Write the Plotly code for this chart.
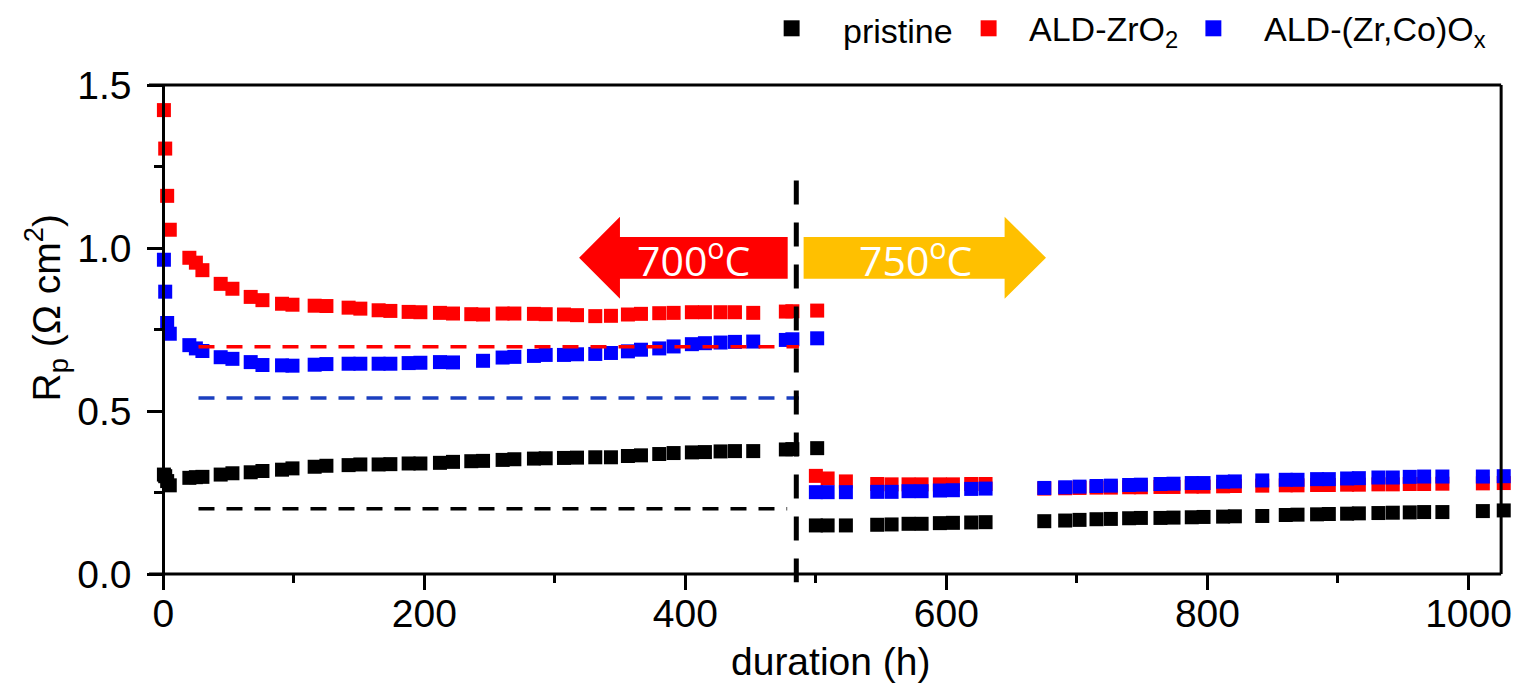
import plotly.graph_objects as go

# ---- measured polarization resistance (ohm cm^2) vs. time (h) ----
hours = [
    # 700 C
    0.5, 1.5, 3, 5, 20, 25, 30, 44, 53, 67, 76, 91, 99, 116, 125, 142, 151,
    165, 174, 188, 197, 212, 222, 236, 245, 260, 269, 284, 293, 307, 317,
    331, 343, 356, 366, 380, 391, 405, 415, 427, 438, 452, 477, 482, 501,
    # 750 C
    500, 509, 523, 547, 558, 571, 581, 595, 605, 619, 630, 675, 691, 702,
    715, 726, 740, 749, 764, 774, 788, 797, 812, 821, 842, 860, 869, 884,
    893, 907, 916, 931, 942, 955, 966, 980, 1011, 1027,
]

rp_pristine = [
    0.305, 0.300, 0.285, 0.272, 0.295, 0.297, 0.298, 0.305, 0.309, 0.312,
    0.316, 0.320, 0.324, 0.329, 0.332, 0.334, 0.336, 0.336, 0.337, 0.339,
    0.339, 0.341, 0.344, 0.346, 0.347, 0.350, 0.352, 0.354, 0.355, 0.356,
    0.357, 0.358, 0.358, 0.362, 0.364, 0.368, 0.371, 0.373, 0.374, 0.376,
    0.377, 0.377, 0.382, 0.383, 0.386,
    0.149, 0.149, 0.149, 0.151, 0.152, 0.154, 0.154, 0.156, 0.157, 0.158,
    0.159, 0.162, 0.164, 0.166, 0.168, 0.169, 0.171, 0.172, 0.172, 0.173,
    0.174, 0.175, 0.176, 0.177, 0.178, 0.181, 0.182, 0.183, 0.184, 0.185,
    0.186, 0.187, 0.188, 0.189, 0.190, 0.190, 0.193, 0.195,
]

rp_zro2 = [
    1.423, 1.305, 1.160, 1.056, 0.970, 0.955, 0.932, 0.890, 0.875, 0.850,
    0.840, 0.829, 0.826, 0.823, 0.822, 0.817, 0.814, 0.809, 0.807, 0.804,
    0.803, 0.801, 0.799, 0.797, 0.796, 0.799, 0.799, 0.798, 0.797, 0.796,
    0.794, 0.791, 0.792, 0.796, 0.798, 0.800, 0.801, 0.803, 0.803, 0.803,
    0.803, 0.801, 0.805, 0.806, 0.808,
    0.301, 0.293, 0.284, 0.276, 0.275, 0.275, 0.275, 0.275, 0.275, 0.276,
    0.276, 0.262, 0.263, 0.264, 0.265, 0.265, 0.266, 0.266, 0.267, 0.267,
    0.268, 0.268, 0.269, 0.270, 0.271, 0.272, 0.272, 0.273, 0.273, 0.274,
    0.274, 0.275, 0.275, 0.276, 0.276, 0.277, 0.278, 0.279,
]

rp_zrco = [
    0.964, 0.866, 0.770, 0.737, 0.702, 0.692, 0.684, 0.665, 0.660, 0.650,
    0.641, 0.640, 0.639, 0.642, 0.644, 0.645, 0.645, 0.645, 0.645, 0.647,
    0.648, 0.650, 0.649, None, 0.654, 0.664, 0.666, 0.669, 0.672, 0.672,
    0.674, 0.675, 0.678, 0.683, 0.688, 0.692, 0.698, 0.705, 0.708, 0.710,
    0.712, 0.713, 0.718, 0.720, 0.723,
    0.251, 0.251, 0.251, 0.252, 0.252, 0.254, 0.254, 0.256, 0.257, 0.261,
    0.262, 0.264, 0.266, 0.268, 0.270, 0.271, 0.273, 0.274, 0.276, 0.277,
    0.279, 0.279, 0.283, 0.284, 0.287, 0.289, 0.289, 0.291, 0.291, 0.293,
    0.294, 0.296, 0.296, 0.298, 0.299, 0.299, 0.299, 0.300,
]

series_names = ["pristine", "ALD-ZrO<sub>2</sub>", "ALD-(Zr,Co)O<sub>x</sub>"]
series_values = [rp_pristine, rp_zro2, rp_zrco]
series_colors = ["#000000", "#FF0000", "#0000FF"]

# reference levels (dashed) for each cell
ref_levels = [0.200, 0.697, 0.540]
ref_start = 27
ref_end = [478, 487, 487]
ref_colors = ["#000000", "#FF0000", "#1B3FBF"]

# temperature change
switch_hour = 485
switch_top = 1.207

temp_labels = ["700<sup>o</sup>C", "750<sup>o</sup>C"]
temp_colors = ["#FF0000", "#FFC000"]

x_tick_vals = [0, 200, 400, 600, 800, 1000]
y_tick_vals = [0.0, 0.5, 1.0, 1.5]

# ---- layout geometry ----
W, H = 1522, 686
M_L, M_R, M_T, M_B = 149, 10, 85, 112
PLOT_W = W - M_L - M_R
PLOT_H = H - M_T - M_B
x_lo, x_hi = -10.92, 1029.5
x_frame = 1025.0          # right edge of the frame box
y_lo, y_hi = 0.0, 1.5

AX_FONT = dict(family="Liberation Sans, Arial, sans-serif", size=39, color="black")
FRAME = dict(color="black", width=3)


def paper_x(px):
    return (px - M_L) / PLOT_W


def paper_y(py):
    return (M_T + PLOT_H - py) / PLOT_H


fig = go.Figure()

for name, vals, col in zip(series_names, series_values, series_colors):
    fig.add_trace(go.Scatter(
        x=hours, y=vals, mode="markers", name=name,
        marker=dict(symbol="square", size=14, color=col, line=dict(width=0)),
        cliponaxis=False, showlegend=False,
    ))

shapes = []

# dashed reference levels
for lvl, x1, col in zip(ref_levels, ref_end, ref_colors):
    shapes.append(dict(type="line", xref="x", yref="y", x0=ref_start, x1=x1,
                       y0=lvl, y1=lvl, layer="above",
                       line=dict(color=col, width=3.5, dash="16px,12px")))

# temperature arrows
arrow_mid = 0.970
shaft_half = 0.064
head_half = 0.126
left_tip, left_head, left_end = 318.6, 349.9, 478.4
right_start, right_head, right_tip = 490.6, 644.6, 676.3


def arrow_path(tail, head_base, tip):
    pts = [
        (tail, arrow_mid + shaft_half), (head_base, arrow_mid + shaft_half),
        (head_base, arrow_mid + head_half), (tip, arrow_mid),
        (head_base, arrow_mid - head_half), (head_base, arrow_mid - shaft_half),
        (tail, arrow_mid - shaft_half),
    ]
    return "M " + " L ".join(f"{x},{y}" for x, y in pts) + " Z"


shapes.append(dict(type="path", xref="x", yref="y", layer="above",
                   path=arrow_path(left_end, left_head, left_tip),
                   fillcolor=temp_colors[0], line=dict(width=0)))
shapes.append(dict(type="path", xref="x", yref="y", layer="above",
                   path=arrow_path(right_start, right_head, right_tip),
                   fillcolor=temp_colors[1], line=dict(width=0)))

# temperature switch marker
shapes.append(dict(type="line", xref="x", yref="paper", x0=switch_hour, x1=switch_hour,
                   y0=switch_top / (y_hi - y_lo), y1=-0.025 / (y_hi - y_lo), layer="above",
                   line=dict(color="black", width=5, dash="24px,18px")))

# frame: bottom, top and right edges
shapes.append(dict(type="line", xref="x", yref="paper", x0=x_lo, x1=x_frame, y0=0, y1=0,
                   line=FRAME, layer="above"))
shapes.append(dict(type="line", xref="x", yref="paper", x0=x_lo, x1=x_frame, y0=1, y1=1,
                   line=FRAME, layer="above"))
shapes.append(dict(type="line", xref="x", yref="paper", x0=x_frame, x1=x_frame, y0=0, y1=1,
                   line=FRAME, layer="above"))

annotations = [
    dict(x=406, y=arrow_mid, xref="x", yref="y", text=temp_labels[0], showarrow=False,
         font=dict(family="Open Sans, sans-serif", size=41, color="white"),
         xanchor="center", yanchor="middle"),
    dict(x=576, y=arrow_mid, xref="x", yref="y", text=temp_labels[1], showarrow=False,
         font=dict(family="Open Sans, sans-serif", size=41, color="white"),
         xanchor="center", yanchor="middle"),
    dict(x=paper_x(833), y=paper_y(661), xref="paper", yref="paper",
         text="duration (h)", showarrow=False, font=AX_FONT,
         xanchor="center", yanchor="middle"),
    dict(x=paper_x(46), y=paper_y(308), xref="paper", yref="paper",
         text="R<sub>p</sub> (Ω cm<sup>2</sup>)", showarrow=False, font=AX_FONT,
         textangle=-90, xanchor="center", yanchor="middle"),
]

# key along the top edge
key_square = 16
key_centers = [794, 991.7, 1217.3]
key_text_left = [844, 1030.7, 1266]
key_y = 28.3
for name, col, cx, tx in zip(series_names, series_colors, key_centers, key_text_left):
    shapes.append(dict(type="rect", xref="paper", yref="paper",
                       x0=paper_x(cx - key_square / 2), x1=paper_x(cx + key_square / 2),
                       y0=paper_y(key_y + key_square / 2), y1=paper_y(key_y - key_square / 2),
                       fillcolor=col, line=dict(width=0)))
    annotations.append(dict(x=paper_x(tx), y=paper_y(key_y + 3), xref="paper", yref="paper",
                            text=name, showarrow=False, xanchor="left", yanchor="middle",
                            font=dict(family="Liberation Sans, Arial, sans-serif",
                                      size=34, color="black")))

fig.update_layout(
    width=W, height=H,
    margin=dict(l=M_L, r=M_R, t=M_T, b=M_B, pad=0),
    paper_bgcolor="white", plot_bgcolor="white",
    showlegend=False,
    shapes=shapes, annotations=annotations,
    xaxis=dict(
        range=[x_lo, x_hi], domain=[0, 1],
        tickvals=x_tick_vals, ticktext=[str(v) for v in x_tick_vals],
        showline=False,
        ticks="outside", ticklen=15, tickwidth=3, tickcolor="black",
        minor=dict(dtick=100, tick0=0, ticks="outside", ticklen=8, tickwidth=3,
                   tickcolor="black"),
        showgrid=False, zeroline=False, tickfont=AX_FONT,
        ticklabelstandoff=-10,
    ),
    yaxis=dict(
        range=[y_lo, y_hi], anchor="free",
        position=(0 - x_lo) / (x_hi - x_lo),
        tickvals=y_tick_vals, ticktext=[f"{v:.1f}" for v in y_tick_vals],
        showline=True, linecolor="black", linewidth=3,
        ticks="outside", ticklen=15, tickwidth=3, tickcolor="black",
        minor=dict(dtick=0.25, tick0=0, ticks="outside", ticklen=8, tickwidth=3,
                   tickcolor="black"),
        showgrid=False, zeroline=False, tickfont=AX_FONT,
        ticklabelstandoff=8,
    ),
)

fig.write_html("out.html")
